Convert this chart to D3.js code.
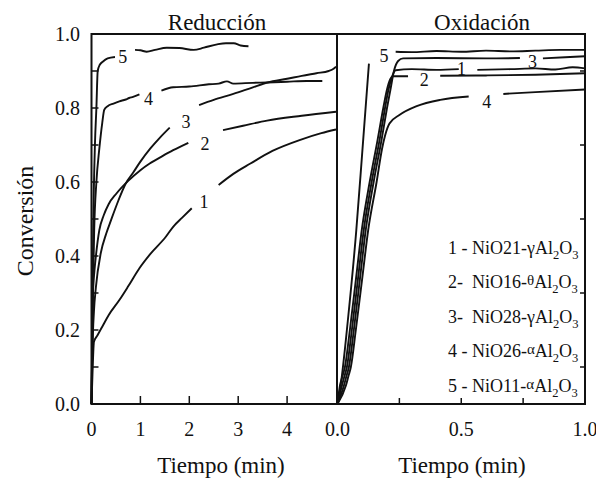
<!DOCTYPE html>
<html>
<head>
<meta charset="utf-8">
<script src="https://cdn.jsdelivr.net/npm/d3@7/dist/d3.min.js"></script>
<style>
  body { margin: 0; background: #fff; }
  svg { font-family: "Liberation Serif", "Times New Roman", serif; }
  text { white-space: pre; }
</style>
</head>
<body>
<div id="chart"></div>
<script>
// Textos
const panelTitles = ["Reducción", "Oxidación"];
const xTitle = "Tiempo (min)";
const yTitle = "Conversión";

// Ejes
const reductionTicks = [0, 1, 2, 3, 4];
const oxidationTicks = [0, 0.25, 0.5, 0.75, 1];
const oxidationLabels = [0, 0.5, 1];
const conversionTicks = [0, 0.2, 0.4, 0.6, 0.8, 1.0];
const conversionMinor = [0.1, 0.3, 0.5, 0.7, 0.9];

// Reducción: [tiempo (min), conversión], null = hueco para la etiqueta
const reduction1 = [[0,0],[0.02,0.08],[0.04,0.15],[0.05,0.168],[0.12,0.185],[0.22,0.209],[0.35,0.24],[0.57,0.281],[0.75,0.318],[0.98,0.367],[1.2,0.405],[1.52,0.452],[1.67,0.479],[1.85,0.503],[2.05,0.529],
  null,[2.6,0.592],[2.9,0.622],[3.25,0.65],[3.7,0.684],[4.27,0.714],[4.7,0.732],[5,0.742]];
const reduction2 = [[0,0],[0.01,0.1],[0.02,0.2],[0.03,0.3],[0.06,0.36],[0.09,0.4],[0.16,0.47],[0.25,0.51],[0.35,0.54],[0.51,0.569],[0.75,0.603],[1.0,0.632],[1.19,0.65],[1.45,0.67],[1.67,0.686],[1.98,0.706],
  null,[2.69,0.74],[3.1,0.752],[3.59,0.766],[4.3,0.779],[5,0.79]];
const reduction3 = [[0,0],[0.01,0.08],[0.02,0.15],[0.05,0.25],[0.09,0.316],[0.19,0.408],[0.3,0.46],[0.4,0.497],[0.55,0.55],[0.7,0.596],[0.85,0.625],[1.0,0.655],[1.2,0.69],[1.4,0.72],[1.6,0.747],
  null,[2.2,0.808],[2.5,0.822],[2.9,0.838],[3.3,0.856],[3.6,0.869],[4.0,0.879],[4.3,0.887],[4.6,0.894],[4.85,0.9],[4.95,0.906],[5,0.912]];
const reduction4 = [[0,0],[0.01,0.1],[0.03,0.3],[0.055,0.47],[0.1,0.6],[0.16,0.69],[0.22,0.76],[0.26,0.795],[0.33,0.805],[0.45,0.812],[0.57,0.818],[0.7,0.823],[0.77,0.827],[0.85,0.83],[0.98,0.837],
  null,[1.43,0.847],[1.67,0.856],[2.0,0.858],[2.4,0.864],[2.6,0.866],[2.77,0.872],[2.9,0.866],[3.3,0.868],[3.59,0.869],[4.0,0.871],[4.4,0.873],[4.72,0.873]];
const reduction5 = [[0,0],[0.015,0.2],[0.035,0.47],[0.07,0.7],[0.1,0.8],[0.127,0.9],[0.17,0.917],[0.23,0.925],[0.33,0.934],[0.48,0.938],
  null,[0.89,0.957],[1.0,0.956],[1.13,0.952],[1.3,0.957],[1.54,0.963],[1.8,0.962],[2.09,0.957],[2.3,0.963],[2.57,0.972],[2.75,0.975],[2.91,0.975],[3.05,0.969],[3.21,0.967]];

// Oxidación
const oxidation1 = [[0,0],[0.018,0.05],[0.028,0.075],[0.038,0.1],[0.058,0.2],[0.083,0.34],[0.106,0.47],[0.138,0.6],[0.17,0.714],[0.192,0.8],[0.206,0.85],[0.218,0.88],[0.235,0.902],[0.3,0.905],[0.4,0.903],[0.49,0.905],
  null,[0.565,0.903],[0.7,0.905],[0.8,0.907],[0.88,0.904],[0.95,0.91],[1.0,0.907]];
const oxidation2 = [[0,0],[0.01,0.05],[0.02,0.075],[0.03,0.1],[0.05,0.2],[0.075,0.34],[0.098,0.47],[0.13,0.6],[0.162,0.714],[0.185,0.8],[0.2,0.85],[0.213,0.878],[0.225,0.886],[0.285,0.886],
  null,[0.415,0.887],[0.6,0.888],[0.8,0.89],[1.0,0.894]];
const oxidation3 = [[0,0],[0.026,0.05],[0.036,0.075],[0.046,0.1],[0.066,0.2],[0.091,0.34],[0.114,0.47],[0.146,0.6],[0.178,0.714],[0.2,0.8],[0.214,0.85],[0.228,0.9],[0.245,0.927],[0.265,0.934],[0.4,0.935],[0.6,0.934],[0.737,0.935],
  null,[0.83,0.934],[0.92,0.937],[1.0,0.94]];
const oxidation4 = [[0,0],[0.034,0.05],[0.044,0.075],[0.054,0.1],[0.074,0.2],[0.1,0.34],[0.124,0.47],[0.158,0.6],[0.18,0.69],[0.192,0.725],[0.21,0.758],[0.25,0.781],[0.32,0.805],[0.415,0.822],[0.53,0.831],
  null,[0.67,0.838],[0.8,0.843],[1.0,0.85]];
const oxidation5 = [[0,0],[0.012,0.047],[0.042,0.227],[0.076,0.47],[0.1,0.68],[0.127,0.92],
  null,[0.235,0.952],[0.3,0.951],[0.4,0.954],[0.5,0.952],[0.6,0.955],[0.7,0.953],[0.8,0.955],[0.9,0.957],[1.0,0.957]];

// Etiquetas de curva: [número, tiempo, conversión]
const reductionLabels = [["1",2.3,0.53],["2",2.32,0.686],["3",1.93,0.746],["4",1.166,0.808],["5",0.64,0.922]];
const oxidationLabels2 = [["1",0.501,0.889],["2",0.351,0.859],["3",0.788,0.908],["4",0.603,0.8],["5",0.188,0.925]];

// Leyenda
const legendNumbers = ["1 - ", "2-  ", "3-  ", "4 - ", "5 - "];
const legendSamples = ["NiO21-", "NiO16-", "NiO28-", "NiO26-", "NiO11-"];
const legendPhases = ["γ", "θ", "γ", "α", "α"];

const width = 596, height = 481;
const plotTop = 34, plotBottom = 404;
const leftX0 = 91.5, midX = 337, rightX1 = 585;

const svg = d3.select("#chart").append("svg")
  .attr("width", width).attr("height", height);

const y = d3.scaleLinear().domain([0, 1]).range([plotBottom, plotTop]);
const xL = d3.scaleLinear().domain([0, 5]).range([leftX0, 336]);
const xR = d3.scaleLinear().domain([0, 1]).range([midX + 0.5, rightX1]);

const ink = "#111";

// Curvas
function drawSeries(series, x) {
  const line = d3.line()
    .defined((d) => d !== null)
    .x((d) => x(d[0]))
    .y((d) => y(d[1]))
    .curve(d3.curveMonotoneX);
  svg.append("g").selectAll("path")
    .data(series)
    .join("path")
    .attr("d", line)
    .attr("fill", "none")
    .attr("stroke", ink)
    .attr("stroke-width", 1.9)
    .attr("stroke-linejoin", "round");
}
drawSeries([reduction1, reduction2, reduction3, reduction4, reduction5], xL);
drawSeries([oxidation1, oxidation2, oxidation3, oxidation4, oxidation5], xR);

// Marcos
const frame = svg.append("g").attr("fill", "none").attr("stroke", ink).attr("stroke-width", 2);
frame.append("rect").attr("x", leftX0).attr("y", plotTop).attr("width", midX - leftX0).attr("height", plotBottom - plotTop);
frame.append("rect").attr("x", midX).attr("y", plotTop).attr("width", rightX1 - midX).attr("height", plotBottom - plotTop);

// Marcas
const ticks = svg.append("g").attr("stroke", ink).attr("stroke-width", 1.5);
ticks.selectAll(".yt").data(conversionTicks.concat(conversionMinor)).join("line")
  .attr("x1", leftX0).attr("x2", leftX0 + 7)
  .attr("y1", (d) => y(d)).attr("y2", (d) => y(d));
ticks.selectAll(".yr").data(conversionMinor).join("line")
  .attr("x1", rightX1 - 5).attr("x2", rightX1)
  .attr("y1", (d) => y(d)).attr("y2", (d) => y(d));
ticks.selectAll(".xl").data(reductionTicks.slice(1)).join("line")
  .attr("x1", (d) => xL(d)).attr("x2", (d) => xL(d))
  .attr("y1", plotBottom).attr("y2", plotBottom - 8);
ticks.selectAll(".xr").data(oxidationTicks.slice(1, 4)).join("line")
  .attr("x1", (d) => xR(d)).attr("x2", (d) => xR(d))
  .attr("y1", plotBottom).attr("y2", plotBottom - 6);

// Etiquetas de ejes
const labels = svg.append("g").attr("fill", ink).attr("font-size", 20);
labels.selectAll(".ylab").data(conversionTicks).join("text")
  .attr("x", 80).attr("y", (d) => y(d)).attr("dy", "0.34em")
  .attr("text-anchor", "end").text((d) => d.toFixed(1));
labels.selectAll(".xll").data(reductionTicks).join("text")
  .attr("x", (d) => xL(d)).attr("y", 436)
  .attr("text-anchor", "middle").text((d) => d);
labels.selectAll(".xrl").data(oxidationLabels).join("text")
  .attr("x", (d) => xR(d)).attr("y", 436)
  .attr("text-anchor", "middle").text((d) => d.toFixed(1));

// Títulos
const titles = svg.append("g").attr("fill", ink).attr("font-size", 23).attr("text-anchor", "middle");
titles.append("text").attr("x", 217).attr("y", 30).text(panelTitles[0]);
titles.append("text").attr("x", 482).attr("y", 30).text(panelTitles[1]);
titles.append("text").attr("x", 221).attr("y", 473).text(xTitle);
titles.append("text").attr("x", 462).attr("y", 473).text(xTitle);
titles.append("text").attr("font-size", 24).attr("transform", "translate(33,221) rotate(-90)").text(yTitle);

// Números de curva
const nums = svg.append("g").attr("fill", ink).attr("font-size", 18).attr("text-anchor", "middle");
nums.selectAll(".rl").data(reductionLabels).join("text")
  .attr("x", (d) => xL(d[1])).attr("y", (d) => y(d[2])).text((d) => d[0]);
nums.selectAll(".ol").data(oxidationLabels2).join("text")
  .attr("x", (d) => xR(d[1])).attr("y", (d) => y(d[2])).text((d) => d[0]);

// Leyenda
const legend = svg.append("g").attr("fill", ink).attr("font-size", 18);
legendNumbers.forEach((num, i) => {
  const t = legend.append("text").attr("x", 448).attr("y", 254 + i * 34.4);
  t.append("tspan").text(num + legendSamples[i]);
  const raised = legendPhases[i] !== "γ";
  const phase = t.append("tspan").text(legendPhases[i]);
  if (raised) phase.attr("font-size", 15).attr("dy", -3);
  t.append("tspan").attr("dy", raised ? 3 : 0).text("Al");
  t.append("tspan").attr("font-size", 12.5).attr("dy", 5).text("2");
  t.append("tspan").attr("dy", -5).text("O");
  t.append("tspan").attr("font-size", 12.5).attr("dy", 5).text("3");
});
</script>
</body>
</html>
